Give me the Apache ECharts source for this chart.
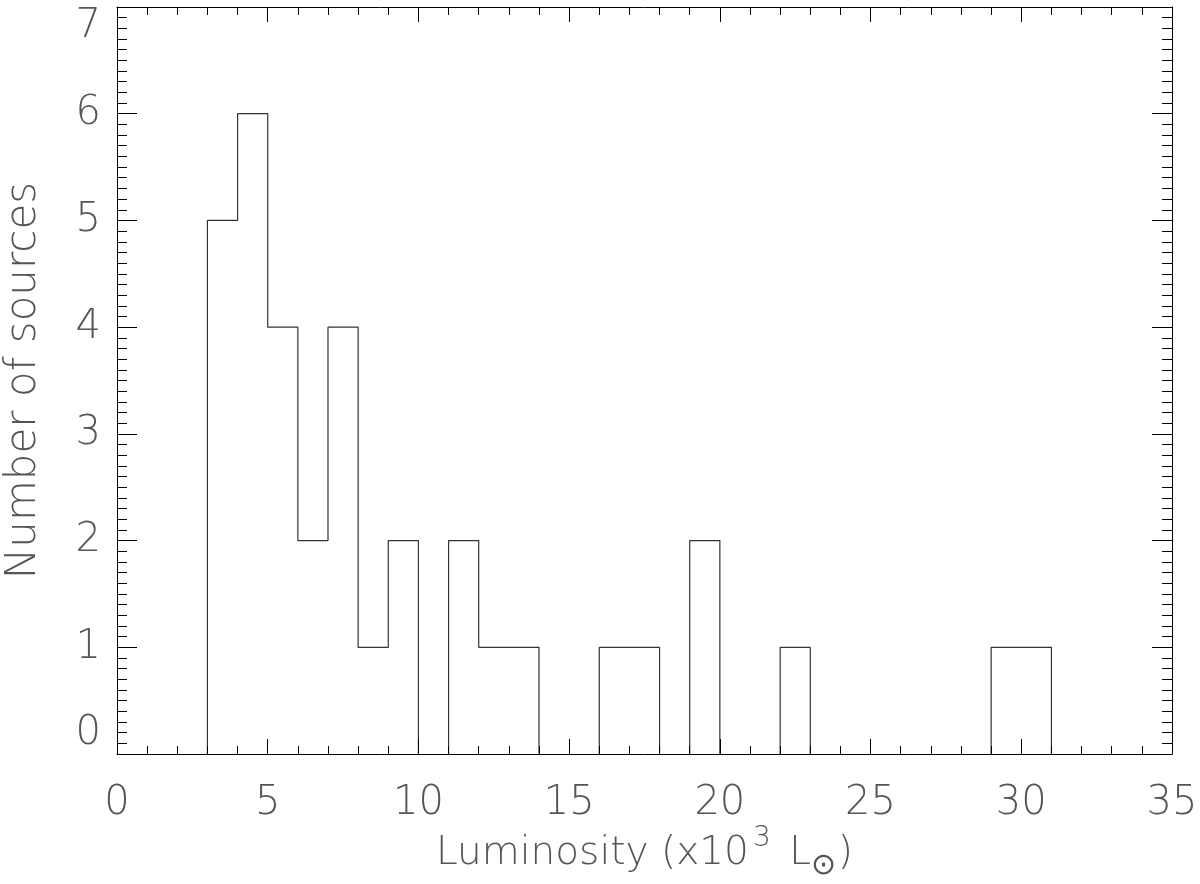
<!DOCTYPE html>
<html>
<head>
<meta charset="utf-8">
<script src="https://cdn.jsdelivr.net/npm/echarts@6/dist/echarts.min.js"></script>
<style>
  html, body { margin: 0; padding: 0; background: #fff; }
  #chart { width: 1200px; height: 884px; }
</style>
</head>
<body>
<div id="chart"></div>
<script>
// histogram bins (left edges, width 1) and their counts
const binStarts = [3, 4, 5, 6, 7, 8, 9, 10, 11, 12, 13, 14, 15, 16, 17, 18, 19, 20, 21, 22, 23, 24, 25, 26, 27, 28, 29, 30];
const counts    = [5, 6, 4, 2, 4, 1, 2, 0, 2, 1, 1, 0, 0, 1, 1, 0, 2, 0, 0, 1, 0, 0, 0, 0, 0, 0, 1, 1];
const binWidth = 1;

const xRange = [0, 35];
const yRange = [0, 7];

// step outline of the histogram; runs of empty bins break the line
// so nothing is drawn over the x axis there
const outline = [];
binStarts.forEach((x0, i) => {
  const c = counts[i];
  if (c === 0) return;
  const prev = i > 0 ? counts[i - 1] : 0;
  const next = i < counts.length - 1 ? counts[i + 1] : 0;
  if (prev === 0) outline.push([x0, 0]);
  outline.push([x0, c]);
  outline.push([x0 + binWidth, c]);
  if (next === 0) {
    outline.push([x0 + binWidth, 0]);
    outline.push([x0 + binWidth, "-"]);
  }
});

const font = "DejaVu Sans";
const weight = 200;
const txtColor = "#555";

const xCommon = {
  type: "value",
  min: xRange[0],
  max: xRange[1],
  interval: 5,
  axisLine: { show: true, onZero: false, lineStyle: { color: "#000", width: 1 } },
  axisTick: { show: true, inside: true, length: 15, lineStyle: { color: "#000" } },
  minorTick: { show: true, splitNumber: 5, length: 8, lineStyle: { color: "#000" } },
  splitLine: { show: false },
  z: 3,
};
const yCommon = {
  type: "value",
  min: yRange[0],
  max: yRange[1],
  interval: 1,
  axisLine: { show: true, onZero: false, lineStyle: { color: "#000", width: 1 } },
  axisTick: { show: true, inside: true, length: 20, lineStyle: { color: "#000" } },
  minorTick: { show: true, splitNumber: 10, length: 10, lineStyle: { color: "#000" } },
  splitLine: { show: false },
  z: 3,
};

const chart = echarts.init(document.getElementById("chart"));
chart.setOption({
  animation: false,
  backgroundColor: "#fff",
  grid: { left: 117, top: 7, width: 1055, height: 747, containLabel: false, outerBoundsMode: "none" },
  xAxis: [
    Object.assign({}, xCommon, {
      position: "bottom",
      axisLabel: { margin: 30, fontFamily: font, fontWeight: weight, fontSize: 40, color: txtColor },
      name: "{t|Luminosity (x10}{s|3}{t| L}{o|⊙}{t|)}",
      nameLocation: "middle",
      nameGap: 71,
      nameMoveOverlap: false,
      nameTextStyle: {
        rich: {
          t: { fontFamily: font, fontWeight: weight, fontSize: 39, color: txtColor, verticalAlign: "bottom" },
          s: { fontFamily: font, fontWeight: weight, fontSize: 28, color: txtColor, padding: [0, 6, 20, 4], verticalAlign: "bottom" },
          o: { fontFamily: font, fontWeight: weight, fontSize: 30, color: txtColor, padding: [0, 2, -8, 0], verticalAlign: "bottom" },
        },
      },
    }),
    Object.assign({}, xCommon, { position: "top", axisLabel: { show: false } }),
  ],
  yAxis: [
    Object.assign({}, yCommon, {
      position: "left",
      axisLabel: {
        margin: 16, fontFamily: font, fontWeight: weight, fontSize: 40, color: txtColor,
        verticalAlignMinLabel: "bottom", verticalAlignMaxLabel: "top",
      },
      name: "Number of sources",
      nameLocation: "middle",
      nameGap: 72,
      nameMoveOverlap: false,
      nameTextStyle: { fontFamily: font, fontWeight: weight, fontSize: 42, color: txtColor },
    }),
    Object.assign({}, yCommon, { position: "right", axisLabel: { show: false } }),
  ],
  series: [
    {
      type: "line",
      data: outline,
      symbol: "none",
      connectNulls: false,
      lineStyle: { color: "#333", width: 1.2 },
      silent: true,
      z: 1,
    },
  ],
});
</script>
</body>
</html>
